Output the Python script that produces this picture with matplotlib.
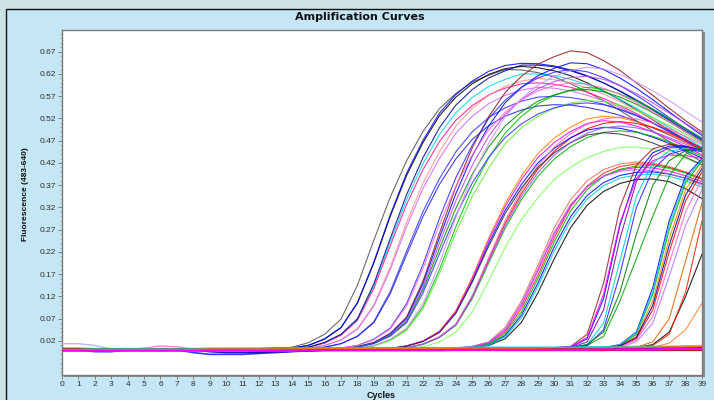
import numpy as np
import matplotlib
matplotlib.use("Agg")
import matplotlib.pyplot as plt
from matplotlib.patches import Rectangle
from matplotlib.ticker import FixedLocator

# ---------------- data (fluorescence) ----------------
x_ticks = list(range(0, 40))
y_ticks = [0.02, 0.07, 0.12, 0.17, 0.22, 0.27, 0.32, 0.37, 0.42, 0.47, 0.52, 0.57, 0.62, 0.67]

# rising curves: first cycle shown and the values from that cycle up to cycle 39
A0 = [0.002,0.002,0.003,0.003,0.003,0.006,0.016,0.035,0.069,0.145,0.246,0.343,0.425,0.491,0.542,0.576,0.602,0.617,0.630,0.629,0.623,0.613,0.598,0.580,0.560,0.538,0.515,0.492,0.468,0.445,0.422]
A1 = [0.002,0.003,0.003,0.003,0.004,0.004,0.010,0.024,0.050,0.105,0.195,0.300,0.392,0.466,0.526,0.568,0.598,0.619,0.632,0.637,0.634,0.627,0.616,0.600,0.582,0.562,0.540,0.517,0.494,0.470,0.447]
A3 = [0.003,0.004,0.004,0.010,0.025,0.050,0.106,0.197,0.303,0.397,0.471,0.532,0.574,0.604,0.626,0.639,0.644,0.643,0.638,0.629,0.616,0.600,0.582,0.562,0.541,0.519,0.497,0.475]
A4 = [0.002,0.002,0.002,0.006,0.016,0.034,0.068,0.143,0.242,0.338,0.419,0.484,0.533,0.567,0.592,0.608,0.620,0.620,0.616,0.608,0.596,0.581,0.563,0.543,0.522,0.500,0.478,0.456]
A5 = [0.002,0.002,0.002,0.006,0.015,0.033,0.066,0.138,0.234,0.327,0.405,0.468,0.516,0.549,0.573,0.588,0.598,0.600,0.597,0.590,0.579,0.565,0.549,0.531,0.511,0.491,0.470,0.449]
A6 = [0.002,0.002,0.002,0.004,0.010,0.023,0.048,0.101,0.186,0.287,0.375,0.445,0.503,0.543,0.572,0.592,0.604,0.610,0.607,0.600,0.589,0.575,0.558,0.539,0.518,0.496,0.474,0.452]
A7 = [0.002,0.002,0.002,0.004,0.010,0.022,0.046,0.098,0.180,0.277,0.363,0.430,0.487,0.525,0.553,0.572,0.584,0.590,0.588,0.582,0.572,0.560,0.545,0.528,0.509,0.489,0.468,0.447]
A8 = [0.002,0.002,0.002,0.002,0.006,0.014,0.031,0.063,0.131,0.222,0.311,0.385,0.445,0.490,0.522,0.544,0.559,0.568,0.570,0.567,0.561,0.552,0.540,0.526,0.510,0.492,0.473,0.453]
A9 = [0.002,0.002,0.002,0.002,0.006,0.014,0.030,0.061,0.126,0.214,0.300,0.372,0.429,0.473,0.504,0.525,0.539,0.548,0.551,0.550,0.545,0.537,0.527,0.514,0.499,0.483,0.466,0.448]
A10 = [0.002,0.002,0.002,0.006,0.017,0.035,0.070,0.148,0.250,0.349,0.432,0.499,0.550,0.585,0.611,0.627,0.640,0.640,0.636,0.627,0.615,0.600,0.581,0.560,0.539,0.516,0.493,0.471]

B1 = [0.002,0.002,0.003,0.007,0.017,0.037,0.074,0.155,0.262,0.366,0.454,0.524,0.578,0.615,0.642,0.659,0.672,0.668,0.650,0.628,0.600,0.572,0.543,0.515,0.490]
B2 = [0.002,0.002,0.003,0.007,0.016,0.036,0.071,0.149,0.252,0.351,0.436,0.503,0.555,0.590,0.616,0.633,0.645,0.643,0.630,0.611,0.588,0.562,0.535,0.508,0.482]
B3 = [0.002,0.002,0.004,0.010,0.024,0.049,0.104,0.192,0.296,0.387,0.460,0.520,0.561,0.590,0.611,0.624,0.630,0.625,0.612,0.594,0.572,0.548,0.522,0.497,0.472]
B4 = [0.002,0.002,0.003,0.006,0.015,0.034,0.068,0.141,0.240,0.335,0.415,0.480,0.529,0.563,0.587,0.603,0.612,0.615,0.608,0.594,0.576,0.555,0.532,0.509,0.486]
B5 = [0.002,0.002,0.002,0.004,0.009,0.022,0.046,0.097,0.180,0.277,0.363,0.431,0.487,0.525,0.553,0.572,0.584,0.590,0.586,0.575,0.560,0.541,0.520,0.498,0.476]
B6 = [0.002,0.002,0.002,0.004,0.009,0.021,0.044,0.092,0.171,0.263,0.345,0.409,0.463,0.499,0.525,0.543,0.555,0.560,0.558,0.550,0.538,0.522,0.504,0.485,0.465]
B7 = [0.002,0.002,0.003,0.006,0.015,0.032,0.064,0.135,0.228,0.318,0.395,0.456,0.503,0.535,0.559,0.573,0.583,0.585,0.580,0.568,0.552,0.533,0.512,0.490,0.468]
B8 = [0.002,0.002,0.004,0.010,0.023,0.047,0.099,0.183,0.282,0.368,0.438,0.495,0.534,0.562,0.582,0.594,0.600,0.597,0.588,0.574,0.556,0.535,0.513,0.490,0.467]
B9 = [0.002,0.002,0.003,0.006,0.014,0.031,0.061,0.128,0.216,0.302,0.375,0.433,0.477,0.508,0.530,0.544,0.552,0.555,0.551,0.541,0.527,0.510,0.491,0.470,0.449]
B10 = [0.002,0.002,0.002,0.004,0.010,0.024,0.049,0.104,0.194,0.298,0.391,0.464,0.524,0.565,0.595,0.615,0.628,0.635,0.631,0.619,0.602,0.582,0.560,0.536,0.512]

C1 = [0.002,0.002,0.003,0.009,0.020,0.042,0.088,0.163,0.251,0.329,0.391,0.441,0.476,0.501,0.519,0.525,0.522,0.513,0.500,0.484,0.466,0.447]
C2 = [0.002,0.002,0.002,0.005,0.013,0.029,0.057,0.120,0.203,0.284,0.352,0.406,0.447,0.476,0.497,0.509,0.513,0.509,0.500,0.487,0.471,0.453]
C3 = [0.002,0.002,0.003,0.009,0.019,0.040,0.084,0.155,0.239,0.313,0.372,0.420,0.453,0.477,0.494,0.500,0.498,0.490,0.478,0.464,0.448,0.431]
C4 = [0.002,0.002,0.003,0.009,0.020,0.041,0.086,0.160,0.246,0.322,0.383,0.432,0.466,0.491,0.509,0.515,0.512,0.503,0.490,0.474,0.457,0.438]
C5 = [0.002,0.002,0.002,0.005,0.012,0.028,0.055,0.115,0.195,0.273,0.338,0.390,0.429,0.457,0.477,0.489,0.492,0.489,0.480,0.468,0.452,0.435]
C6 = [0.002,0.002,0.002,0.003,0.007,0.018,0.040,0.085,0.155,0.230,0.293,0.342,0.383,0.411,0.432,0.446,0.455,0.456,0.451,0.442,0.430,0.416]
C7 = [0.002,0.002,0.002,0.005,0.013,0.030,0.058,0.122,0.207,0.290,0.359,0.414,0.456,0.486,0.507,0.519,0.523,0.519,0.510,0.497,0.480,0.462]
C8 = [0.002,0.002,0.003,0.008,0.019,0.039,0.082,0.152,0.233,0.306,0.364,0.410,0.443,0.466,0.483,0.488,0.485,0.477,0.465,0.450,0.433,0.416]
C9 = [0.002,0.002,0.002,0.005,0.013,0.028,0.056,0.118,0.199,0.278,0.345,0.398,0.438,0.466,0.487,0.499,0.503,0.499,0.490,0.477,0.462,0.444]

D1 = [0.002,0.003,0.004,0.008,0.018,0.050,0.110,0.190,0.275,0.338,0.380,0.405,0.418,0.422,0.420,0.412,0.400,0.385]
D2 = [0.002,0.002,0.003,0.007,0.015,0.040,0.093,0.168,0.252,0.322,0.368,0.397,0.412,0.418,0.417,0.410,0.399,0.385]
D3 = [0.002,0.002,0.003,0.006,0.012,0.032,0.078,0.150,0.232,0.300,0.347,0.376,0.392,0.399,0.400,0.395,0.386,0.373]
D4 = [0.002,0.002,0.003,0.007,0.016,0.044,0.100,0.178,0.260,0.325,0.366,0.391,0.404,0.410,0.409,0.402,0.391,0.378]
D5 = [0.002,0.002,0.003,0.005,0.010,0.025,0.062,0.128,0.205,0.275,0.325,0.356,0.374,0.383,0.384,0.378,0.362,0.340]
D6 = [0.002,0.002,0.003,0.006,0.013,0.036,0.085,0.160,0.243,0.313,0.360,0.390,0.406,0.413,0.414,0.408,0.397,0.383]
D7 = [0.002,0.002,0.003,0.005,0.011,0.029,0.072,0.142,0.222,0.291,0.339,0.369,0.386,0.393,0.395,0.390,0.380,0.366]
D8 = [0.002,0.003,0.004,0.008,0.017,0.047,0.105,0.183,0.265,0.327,0.367,0.390,0.401,0.405,0.403,0.396,0.385,0.371]

E1 = [0.003,0.004,0.005,0.008,0.035,0.150,0.320,0.415,0.452,0.462,0.458,0.448]
E2 = [0.003,0.004,0.005,0.006,0.025,0.115,0.280,0.395,0.443,0.458,0.457,0.449]
E3 = [0.003,0.004,0.004,0.005,0.018,0.090,0.250,0.378,0.435,0.454,0.455,0.448]
E4 = [0.003,0.004,0.005,0.007,0.028,0.125,0.285,0.385,0.425,0.438,0.437,0.430]
E5 = [0.003,0.004,0.004,0.005,0.010,0.030,0.110,0.205,0.300,0.390,0.440,0.455]
E6 = [0.003,0.003,0.004,0.005,0.012,0.060,0.200,0.345,0.420,0.447,0.452,0.447]
E7 = [0.003,0.003,0.004,0.005,0.010,0.045,0.170,0.320,0.405,0.440,0.450,0.446]
E8 = [0.003,0.003,0.004,0.005,0.012,0.040,0.130,0.260,0.370,0.425,0.448,0.452]

G1 = [0.004,0.004,0.005,0.012,0.040,0.140,0.290,0.390,0.430]
G2 = [0.004,0.004,0.004,0.010,0.030,0.110,0.250,0.360,0.415]
G3 = [0.004,0.004,0.005,0.008,0.025,0.090,0.220,0.335,0.400]
G4 = [0.004,0.004,0.005,0.008,0.022,0.075,0.195,0.310,0.385]
G5 = [0.004,0.004,0.005,0.010,0.035,0.125,0.270,0.375,0.425]
G6 = [0.004,0.004,0.004,0.006,0.018,0.060,0.165,0.280,0.360]
G7 = [0.004,0.004,0.005,0.011,0.038,0.130,0.280,0.382,0.428]
G8 = [0.004,0.004,0.005,0.009,0.028,0.100,0.235,0.348,0.408]

F1 = [0.004,0.004,0.005,0.012,0.040,0.120,0.215]
F2 = [0.004,0.004,0.005,0.006,0.015,0.045,0.105]
F3 = [0.004,0.004,0.005,0.010,0.035,0.130,0.290]
F4 = [0.004,0.004,0.006,0.018,0.070,0.200,0.330]

rising_values = [A0, A1, A3, A4, A5, A6, A7, A8, A9, A10,
                 B1, B2, B3, B4, B5, B6, B7, B8, B9, B10,
                 C1, C2, C3, C4, C5, C6, C7, C8, C9,
                 D1, D2, D3, D4, D5, D6, D7, D8,
                 E1, E2, E3, E4, E5, E6, E7, E8,
                 G1, G2, G3, G4, G5, G6, G7, G8,
                 F1, F2, F3, F4]
rising_start = [9, 9, 12, 12, 12, 12, 12, 12, 12, 12,
                15, 15, 15, 15, 15, 15, 15, 15, 15, 15,
                18, 18, 18, 18, 18, 18, 18, 18, 18,
                22, 22, 22, 22, 22, 22, 22, 22,
                28, 28, 28, 28, 28, 28, 28, 28,
                31, 31, 31, 31, 31, 31, 31, 31,
                33, 33, 33, 33]

# flat (negative) wells, cycles 0..39
N11 = [-0.001,-0.001,-0.001,-0.001,-0.001,-0.001,-0.001,-0.001,-0.001,-0.001,
       -0.001,-0.001,-0.001,-0.001,-0.001,-0.001,-0.001,-0.001,-0.001,-0.001,
       -0.001,-0.001,-0.001,-0.001,-0.001,-0.001,-0.001,-0.001,-0.001,-0.001,
       -0.001,-0.001,-0.001,-0.001,-0.001,-0.001,-0.001,-0.001,-0.001,-0.001]
N2 = [0.014,0.014,0.010,0.002,0.001,0.001,0.001,0.001,0.001,0.001,
      0.001,0.001,0.001,0.001,0.001,0.001,0.001,0.002,0.002,0.002,
      0.002,0.002,0.002,0.002,0.002,0.002,0.002,0.002,0.002,0.002,
      0.003,0.003,0.003,0.003,0.003,0.003,0.003,0.004,0.004,0.004]
N3 = [0.000,0.000,-0.004,-0.004,0.000,0.000,0.000,0.000,-0.006,-0.010,
      -0.010,-0.010,-0.008,-0.006,-0.004,-0.002,0.000,0.000,0.000,0.000,
      0.001,0.001,0.001,0.001,0.001,0.001,0.002,0.002,0.002,0.002,
      0.002,0.002,0.002,0.003,0.003,0.003,0.003,0.003,0.004,0.004]
N4 = [0.001,0.001,0.001,0.001,0.001,0.004,0.009,0.007,0.002,0.001,
      0.001,0.001,0.001,0.002,0.002,0.002,0.002,0.002,0.003,0.003,
      0.003,0.003,0.003,0.003,0.003,0.003,0.003,0.003,0.003,0.004,
      0.004,0.004,0.004,0.004,0.005,0.005,0.005,0.006,0.006,0.007]
N5 = [0.000,0.000,0.000,0.000,0.000,0.000,0.000,0.000,0.000,-0.004,
      -0.006,-0.006,-0.006,-0.004,-0.003,-0.002,-0.001,0.000,0.000,0.000,
      0.000,0.000,0.000,0.001,0.001,0.001,0.001,0.001,0.001,0.001,
      0.001,0.001,0.001,0.002,0.002,0.002,0.002,0.002,0.002,0.003]
N6 = [0.003,0.003,0.002,0.002,0.002,0.002,0.002,0.002,0.002,0.002,
      0.002,0.003,0.003,0.003,0.003,0.003,0.003,0.003,0.003,0.004,
      0.004,0.004,0.004,0.004,0.004,0.004,0.004,0.005,0.005,0.005,
      0.005,0.005,0.005,0.005,0.006,0.006,0.006,0.006,0.007,0.007]
N7 = [0.001,0.001,0.000,-0.001,-0.001,-0.001,-0.001,-0.001,-0.001,-0.001,
      -0.001,-0.001,-0.001,0.000,0.000,0.000,0.000,0.000,0.000,0.000,
      0.000,0.000,0.000,0.000,0.000,0.000,0.000,-0.001,-0.001,-0.001,
      -0.001,-0.001,-0.001,-0.001,0.000,0.000,0.000,0.000,0.000,0.000]
N8 = [0.004,0.004,0.003,0.003,0.003,0.003,0.003,0.003,0.003,0.004,
      0.004,0.004,0.004,0.004,0.005,0.005,0.005,0.005,0.005,0.005,
      0.005,0.005,0.005,0.005,0.005,0.006,0.006,0.006,0.006,0.006,
      0.006,0.006,0.007,0.007,0.007,0.008,0.008,0.008,0.009,0.009]
N9 = [0.000,0.000,0.000,0.000,0.000,0.000,0.000,0.000,0.000,0.000,
      0.000,0.000,-0.003,-0.004,-0.003,-0.002,0.000,0.000,0.000,0.000,
      0.001,0.001,0.001,0.001,0.001,0.001,0.001,0.001,0.001,0.001,
      0.001,0.001,0.002,0.002,0.002,0.002,0.002,0.003,0.003,0.003]
N10 = [0.002,0.002,0.001,0.001,0.001,0.001,0.001,0.001,0.001,0.001,
       0.001,0.001,0.001,0.001,0.001,0.001,0.002,0.002,0.002,0.002,
       0.002,0.002,0.002,0.002,0.002,0.003,0.003,0.003,0.003,0.003,
       0.003,0.003,0.004,0.004,0.004,0.004,0.005,0.005,0.005,0.006]
N12 = [0.001,0.001,0.001,0.001,0.001,0.001,0.001,0.001,0.001,0.002,
       0.002,0.002,0.002,0.002,0.002,0.003,0.003,0.003,0.003,0.003,
       0.003,0.003,0.003,0.003,0.004,0.004,0.004,0.004,0.004,0.004,
       0.005,0.005,0.005,0.005,0.006,0.006,0.006,0.007,0.007,0.008]
N1 = [-0.002,-0.002,-0.002,-0.002,-0.002,-0.002,-0.002,-0.002,-0.002,-0.002,
      -0.002,-0.002,-0.002,-0.002,-0.002,-0.001,-0.001,-0.001,-0.001,-0.001,
      -0.001,-0.001,-0.001,-0.001,0.000,0.000,0.000,0.000,0.000,0.000,
      0.000,0.000,0.000,0.001,0.001,0.001,0.001,0.002,0.002,0.002]
flat_values = [N11, N2, N3, N4, N5, N6, N7, N8, N9, N10, N12, N1]

# ---------------- styles ----------------
rising_colors = ['#505050', '#000000', '#0000ff', '#00d8d8', '#ff1493', '#ff9090', '#cc66ff', '#3030ff', '#2020e0', '#000090',
                 '#8b1a1a', '#0000ff', '#2a2aff', '#bb44ee', '#00c000', '#66ee33', '#009000', '#ff66cc', '#3333ff', '#d090ff',
                 '#ff8000', '#ff0000', '#0000ff', '#ff00ff', '#00b000', '#77ff55', '#ff66b4', '#303030', '#9955ff',
                 '#e07050', '#ff2020', '#0000ff', '#ff00ff', '#000000', '#00b000', '#00cccc', '#bb66ff',
                 '#8b2020', '#0000ff', '#8000a0', '#ff00ff', '#00a000', '#00cccc', '#2020ff', '#007a00',
                 '#0000ff', '#ff8000', '#ff0000', '#ff66cc', '#00b000', '#b070ff', '#00cccc', '#000090',
                 '#000000', '#ff8030', '#ff2000', '#e06000']
flat_colors = ['#303030', '#c0a8ff', '#2020ff', '#ff80c0', '#0000c0', '#00b000', '#ff0000',
               '#00cccc', '#8000a0', '#8b1a1a', '#ff8000', '#ff00ff']
flat_widths = [0.9, 1.0, 1.2, 1.0, 1.2, 1.0, 1.1, 1.0, 1.2, 1.0, 1.0, 1.6]

fig = plt.figure(figsize=(7.14, 4.0), dpi=100, facecolor='#cde2e4')
frame = Rectangle((6 / 714, -0.1), 1.0, 1.1 - 9 / 400, transform=fig.transFigure,
                  facecolor='#c5e6f4', edgecolor='#101010', linewidth=1.0, zorder=-3)
fig.patches.append(frame)
ax_l, ax_b, ax_w, ax_h = 62 / 714, 25 / 400, 640 / 714, 345 / 400
shadow = Rectangle((ax_l + 2 / 714, ax_b - 2 / 400), ax_w + 1 / 714, ax_h, transform=fig.transFigure,
                   facecolor='#8c8c8c', edgecolor='none', zorder=-2)
fig.patches.append(shadow)
ax = fig.add_axes([ax_l, ax_b, ax_w, ax_h])
ax.set_zorder(1)
ax.set_facecolor('white')

for start, vals, col in zip(rising_start, rising_values, rising_colors):
    xs = np.arange(start, start + len(vals))
    ax.plot(xs, vals, color=col, lw=0.8, alpha=0.85, solid_joinstyle='round', zorder=2)

for vals, col, w in zip(flat_values, flat_colors, flat_widths):
    xs = np.arange(len(vals))
    ax.plot(xs, vals, color=col, lw=w, alpha=0.9, zorder=3)

ax.set_xlim(0, 39)
ax.set_ylim(-0.0564, 0.7188)
ax.xaxis.set_major_locator(FixedLocator(x_ticks))
ax.yaxis.set_major_locator(FixedLocator(y_ticks))
ax.yaxis.set_minor_locator(FixedLocator(np.round(np.arange(-0.05, 0.72, 0.01), 3)))
ax.set_xticklabels([str(t) for t in x_ticks])
ax.set_yticklabels(['%.2f' % t for t in y_ticks])
ax.tick_params(axis='both', which='major', length=3, width=0.6, color='#707070', pad=1.5,
               labelsize=6, labelcolor='#303030')
ax.tick_params(axis='y', which='minor', length=1.5, width=0.5, color='#909090')
for lab in ax.get_xticklabels() + ax.get_yticklabels():
    lab.set_fontfamily('Liberation Sans')
for sp in ax.spines.values():
    sp.set_color('#7a7a7a')
    sp.set_linewidth(1.0)

fig.text(360 / 714, 1 - 17 / 400, 'Amplification Curves', ha='center', va='center',
         fontsize=8, fontweight='bold', family='DejaVu Sans', color='#101010')
fig.text(26 / 714, 1 - 194 / 400, 'Fluorescence (483-640)', ha='center', va='center', rotation=90,
         fontsize=6, fontweight='bold', family='Liberation Sans', color='#101010')
fig.text(381 / 714, 1 - 396 / 400, 'Cycles', ha='center', va='center',
         fontsize=6.5, fontweight='bold', family='Liberation Sans', color='#101010')

fig.savefig('out.png', dpi=100, facecolor=fig.get_facecolor())
